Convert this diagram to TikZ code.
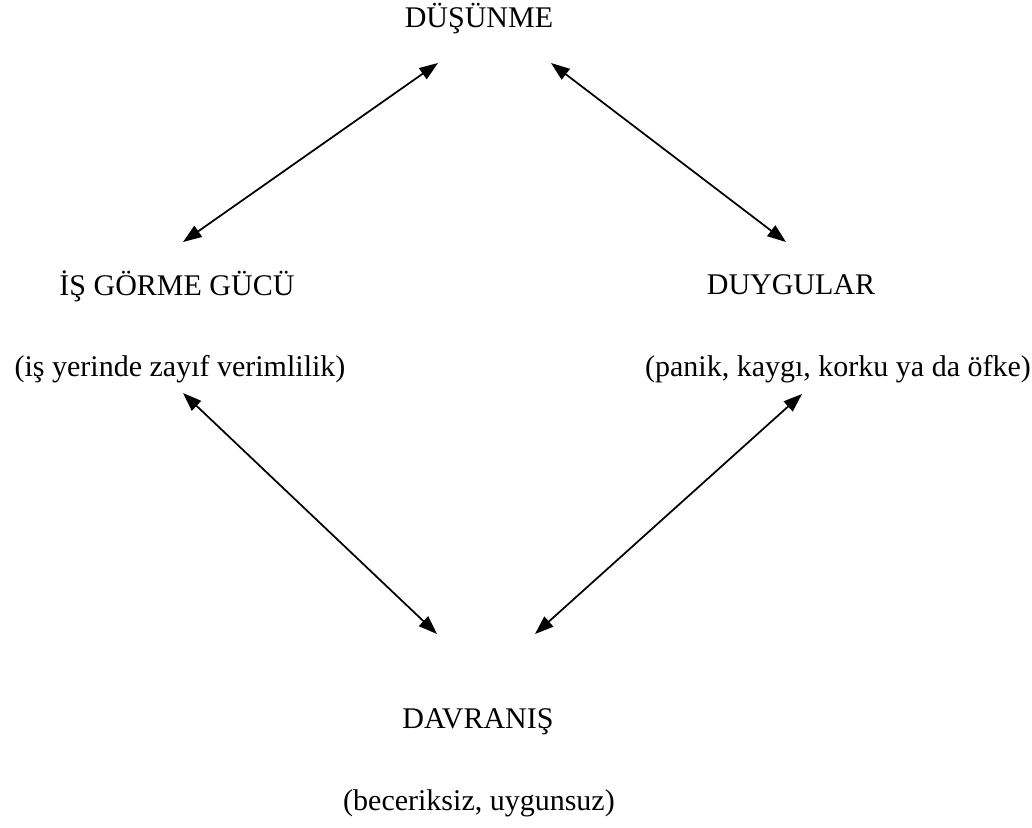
\documentclass[tikz,border=0pt]{standalone}
\usepackage{fontspec}
\setmainfont{Liberation Serif}
\usetikzlibrary{arrows.meta}

\begin{document}
\begin{tikzpicture}[
  x=0.75pt, y=-0.75pt,
  term/.style={anchor=base, inner sep=0pt, font=\fontsize{22.5}{27}\selectfont},
  note/.style={term},
  link/.style={{Triangle[length=14pt, width=10pt]}-{Triangle[length=14pt, width=10pt]}, line width=1.3pt}
]
\useasboundingbox (0,0) rectangle (1032,828);

\node[term] (think) at (479,27) {DÜŞÜNME};
\node[term] (work) at (177,295) {İŞ GÖRME GÜCÜ};
\node[note] (worknote) at (180,376) {(iş yerinde zayıf verimlilik)};
\node[term] (feel) at (791,294) {DUYGULAR};
\node[note] (feelnote) at (838,376) {(panik, kaygı, korku ya da öfke)};
\node[term] (act) at (478,728) {DAVRANIŞ};
\node[note] (actnote) at (479,810) {(beceriksiz, uygunsuz)};

% arrow ends
\coordinate (think-l) at (438,63);
\coordinate (think-r) at (551,63);
\coordinate (work-t) at (183,242);
\coordinate (feel-t) at (786,242);
\coordinate (work-b) at (183,393);
\coordinate (feel-b) at (802,394);
\coordinate (act-l) at (437,634);
\coordinate (act-r) at (535,634);

\draw[link] (work-t) -- (think-l);
\draw[link] (think-r) -- (feel-t);
\draw[link] (work-b) -- (act-l);
\draw[link] (act-r) -- (feel-b);
\end{tikzpicture}
\end{document}
